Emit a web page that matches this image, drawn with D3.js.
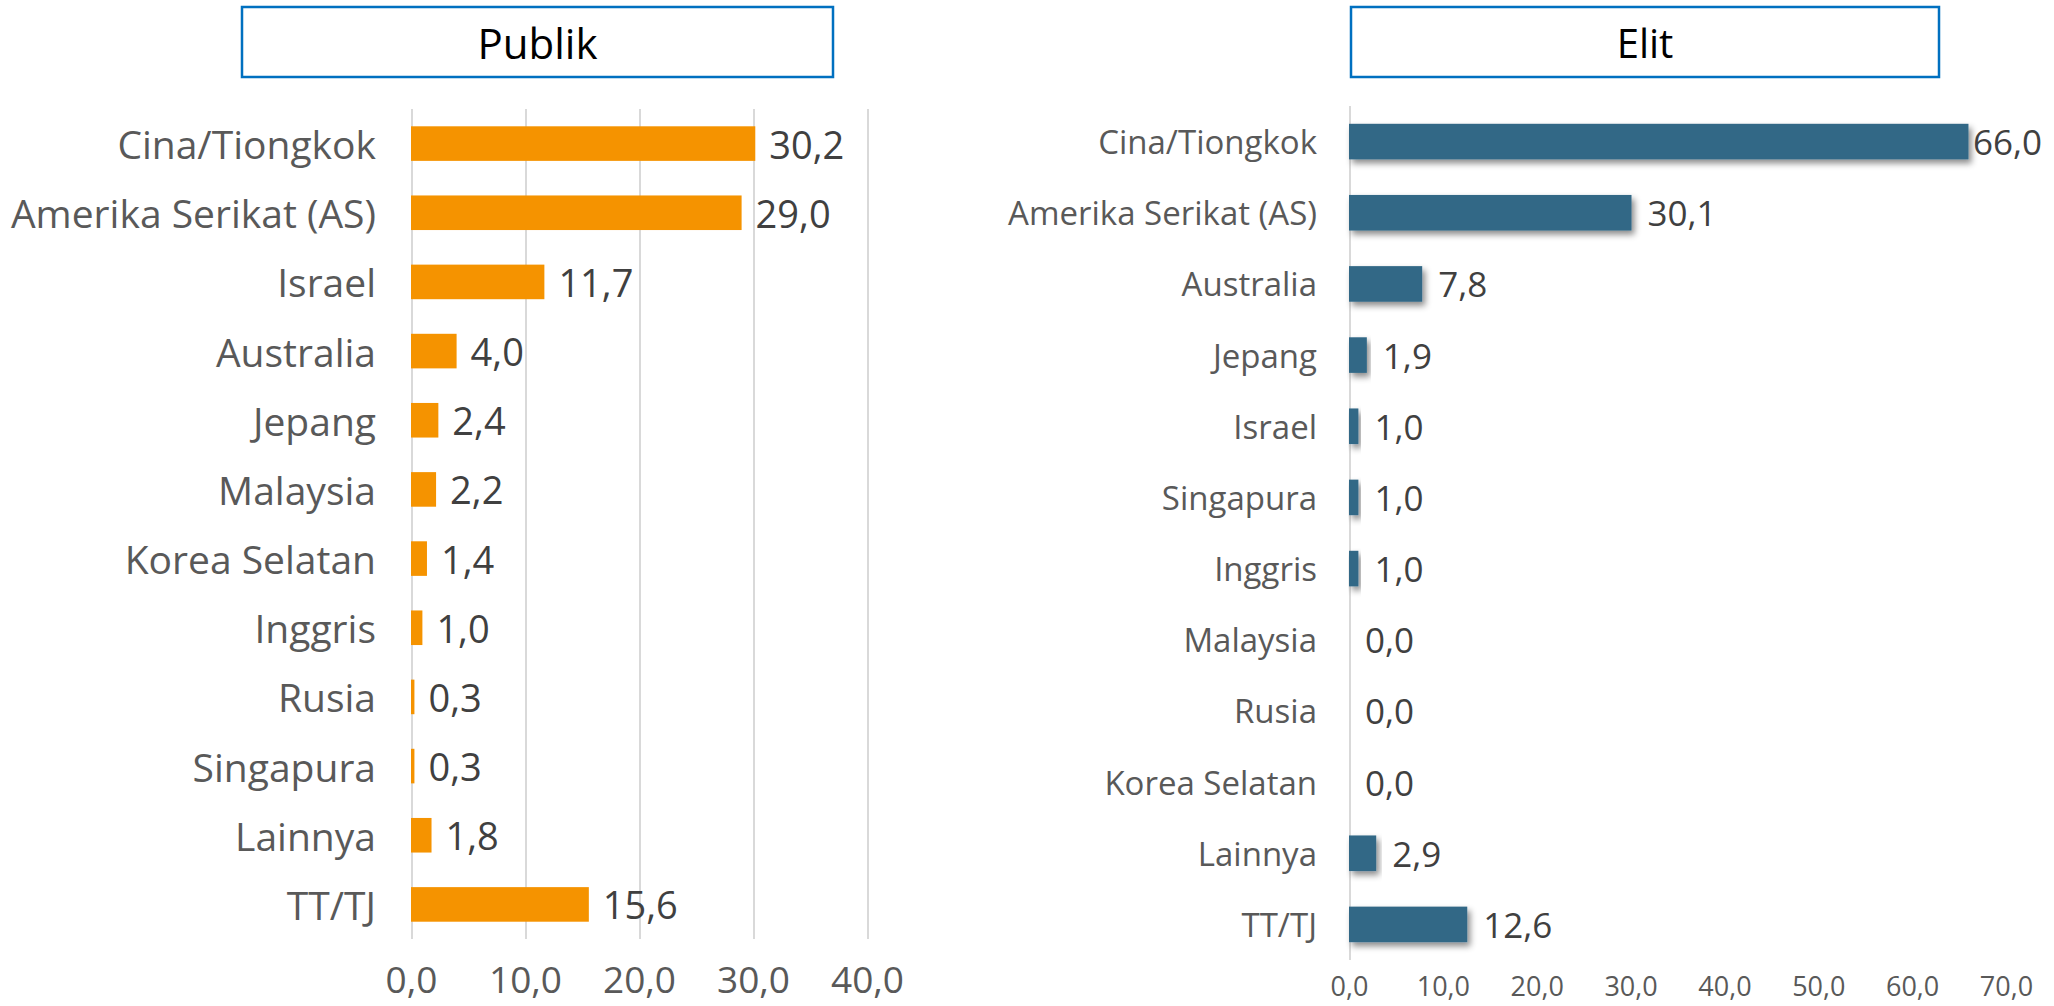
<!DOCTYPE html>
<html lang="id">
<head>
<meta charset="UTF-8">
<title>Publik / Elit</title>
<script src="https://cdn.jsdelivr.net/npm/d3@7"></script>
<style>
  body { margin:0; background:#fff; }
  text { font-family: "Open Sans", "DejaVu Sans", sans-serif; }
  .cat text { fill:#595959; }
  .tick-lbl text { fill:#595959; }
  .grid line { stroke:#d9d9d9; stroke-width:2px; shape-rendering:crispEdges; }
  .grid path, .cat path, .tick-lbl path { display:none; }
  .cat line, .tick-lbl line { display:none; }
  .val { fill:#404040; }
  .titlebox { fill:#fff; stroke:#0070c0; stroke-width:2.5px; }
</style>
</head>
<body>
<div id="chart"></div>
<script>
// data
var catPublik = ["Cina/Tiongkok","Amerika Serikat (AS)","Israel","Australia","Jepang","Malaysia","Korea Selatan","Inggris","Rusia","Singapura","Lainnya","TT/TJ"];
var valPublik = [30.2, 29.0, 11.7, 4.0, 2.4, 2.2, 1.4, 1.0, 0.3, 0.3, 1.8, 15.6];
var tickPublik = [0, 10, 20, 30, 40];

var catElit = ["Cina/Tiongkok","Amerika Serikat (AS)","Australia","Jepang","Israel","Singapura","Inggris","Malaysia","Rusia","Korea Selatan","Lainnya","TT/TJ"];
var valElit = [66.0, 30.1, 7.8, 1.9, 1.0, 1.0, 1.0, 0.0, 0.0, 0.0, 2.9, 12.6];
var tickElit = [0, 10, 20, 30, 40, 50, 60, 70];

var width = 2054, height = 1006;
var fmt = function(v){ return d3.format(".1f")(v).replace(".", ","); };

var svg = d3.select("#chart").append("svg")
    .attr("width", width).attr("height", height);

// shadow for the Elit bars
var defs = svg.append("defs");
defs.append("filter").attr("id","shadow")
    .attr("x","-10%").attr("y","-30%").attr("width","130%").attr("height","180%")
  .append("feDropShadow")
    .attr("dx",3).attr("dy",4).attr("stdDeviation",3)
    .attr("flood-color","#000").attr("flood-opacity",0.45);

function panel(o){
  var x = d3.scaleLinear().domain([0, o.max]).range([o.x0, o.x1]);
  var y = d3.scaleBand().domain(o.cats).range([o.yTop, o.yBot])
      .paddingInner(0.5).paddingOuter(0.25);
  var data = o.cats.map(function(c,i){ return {cat:c, val:o.vals[i]}; });

  // title box
  svg.append("rect").attr("class","titlebox")
      .attr("x", o.box[0]).attr("y", o.box[1])
      .attr("width", o.box[2]-o.box[0]).attr("height", o.box[3]-o.box[1]);
  svg.append("text")
      .attr("x", (o.box[0]+o.box[2])/2).attr("y", (o.box[1]+o.box[3])/2)
      .attr("text-anchor","middle").attr("dominant-baseline","central")
      .attr("font-size", o.titleSize).attr("fill","#000")
      .text(o.title);

  // gridlines
  svg.append("g").attr("class","grid")
      .attr("transform","translate(0,"+o.yBot+")")
      .call(d3.axisBottom(x).tickValues(o.gridTicks).tickSize(o.yTop-o.yBot).tickFormat(""));

  // bars
  svg.append("g").selectAll("rect")
      .data(data).enter().append("rect")
      .attr("x", x(0))
      .attr("y", function(d){ return y(d.cat); })
      .attr("width", function(d){ return x(d.val)-x(0); })
      .attr("height", y.bandwidth())
      .attr("fill", o.color)
      .attr("filter", o.shadow ? "url(#shadow)" : null);

  // value labels
  svg.append("g").selectAll("text")
      .data(data).enter().append("text")
      .attr("class","val")
      .attr("font-size", o.valSize)
      .attr("dominant-baseline","central")
      .attr("y", function(d){ return y(d.cat)+y.bandwidth()/2; })
      .text(function(d){ return fmt(d.val); })
      .attr("x", function(d){
        var w = this.getComputedTextLength();
        return Math.min(x(d.val)+o.gap, o.rightLimit - w);
      });

  // category axis
  var ca = svg.append("g").attr("class","cat")
      .attr("transform","translate("+(x(0)-o.catGap)+",0)")
      .call(d3.axisLeft(y).tickSize(0).tickPadding(0));
  ca.selectAll("text").attr("font-size", o.catSize).attr("dy",null)
      .attr("dominant-baseline","central");

  // value axis labels
  var ta = svg.append("g").attr("class","tick-lbl")
      .attr("transform","translate(0,"+o.tickY+")")
      .call(d3.axisBottom(x).tickValues(o.ticks).tickSize(0).tickPadding(0).tickFormat(fmt));
  ta.selectAll("text").attr("font-size", o.tickSize).attr("dy",null)
      .attr("dominant-baseline","central");
}

panel({
  title:"Publik", cats:catPublik, vals:valPublik, ticks:tickPublik, gridTicks:tickPublik,
  max:40, x0:411, x1:867, yTop:109, yBot:939,
  box:[242,7,833,77], titleSize:42,
  color:"#f59300", shadow:false,
  gap:14, rightLimit:1000, catGap:35,
  catSize:39, valSize:38, tickSize:37, tickY:978
});

panel({
  title:"Elit", cats:catElit, vals:valElit, ticks:tickElit, gridTicks:[0],
  max:70, x0:1349, x1:2006, yTop:106, yBot:960,
  box:[1351,7,1939,77], titleSize:40,
  color:"#316886", shadow:true,
  gap:16, rightLimit:2042, catGap:32,
  catSize:33, valSize:35, tickSize:27, tickY:985
});
</script>
</body>
</html>
